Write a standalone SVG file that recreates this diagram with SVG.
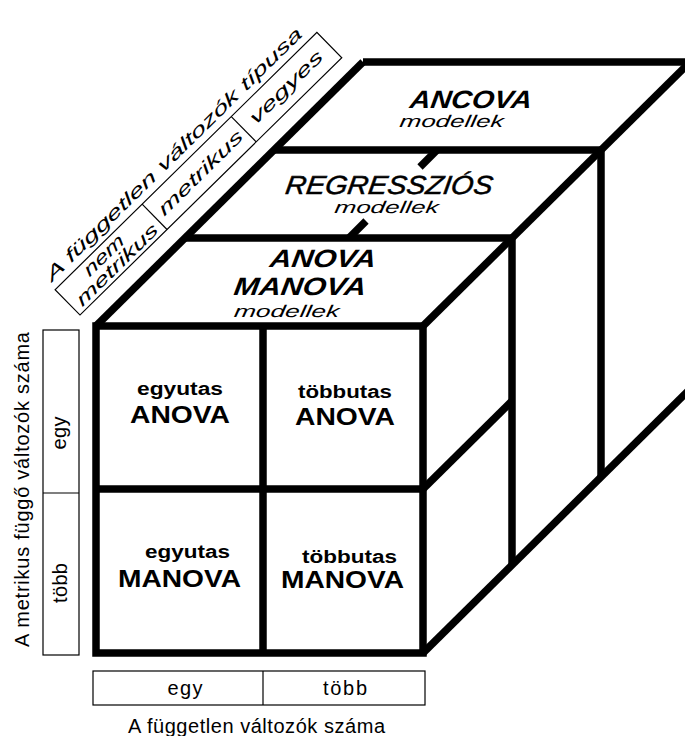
<svg xmlns="http://www.w3.org/2000/svg" width="685" height="736" viewBox="0 0 685 736">
  <style>
    .thick { fill: none; stroke: #000; stroke-width: 7.5; stroke-linecap: butt; stroke-linejoin: miter; }
    .thin { fill: #fff; stroke: #000; stroke-width: 1.2; }
    .lbl { font-family: "Liberation Sans", Arial, sans-serif; font-size: 20px; fill: #000; }
    .obl { font-family: "Liberation Sans", Arial, sans-serif; font-size: 18px; font-style: italic; fill: #000; }
    .cell-s { font-family: "Liberation Sans", Arial, sans-serif; font-size: 18px; font-weight: bold; fill: #000; text-anchor: middle; }
    .cell-l { font-family: "Liberation Sans", Arial, sans-serif; font-size: 24px; font-weight: bold; fill: #000; text-anchor: middle; }
    .slab-b { font-family: "Liberation Sans", Arial, sans-serif; font-size: 25px; font-weight: bold; font-style: italic; fill: #000; text-anchor: middle; }
    .slab-r { font-family: "Liberation Sans", Arial, sans-serif; font-size: 26px; font-style: italic; fill: #000; text-anchor: middle; stroke: #000; stroke-width: 0.5; }
    .slab-m { font-family: "Liberation Sans", Arial, sans-serif; font-size: 17px; font-style: italic; fill: #000; text-anchor: middle; }
  </style>
  <rect width="685" height="736" fill="#fff"/>

  <!-- cube edges -->
  <g id="connectors">
    <rect class="thick" x="96" y="326" width="327" height="327"/>
    <line class="thick" x1="263" y1="326" x2="263" y2="653"/>
    <line class="thick" x1="96" y1="489" x2="423" y2="489"/>
    <line class="thick" x1="96" y1="326" x2="363" y2="62"/>
    <line class="thick" x1="423" y1="326" x2="690" y2="62"/>
    <line class="thick" x1="423" y1="653" x2="690" y2="389"/>
    <line class="thick" x1="423" y1="489" x2="512" y2="401"/>
    <line class="thick" x1="185" y1="238" x2="512" y2="238"/>
    <line class="thick" x1="274" y1="150" x2="601" y2="150"/>
    <line class="thick" x1="363" y1="62" x2="690" y2="62"/>
    <line class="thick" x1="512" y1="238" x2="512" y2="565"/>
    <line class="thick" x1="601" y1="150" x2="601" y2="477"/>
    <line class="thick" x1="437" y1="150" x2="420" y2="167"/>
    <line class="thick" x1="349" y1="238" x2="366" y2="221"/>
  </g>

  <!-- top faces of the three model layers -->
  <g id="slab-ancova">
    <text class="slab-b" transform="translate(470,108) skewX(-8)" textLength="122" lengthAdjust="spacingAndGlyphs">ANCOVA</text>
    <text class="slab-m" transform="translate(451,127) skewX(-8)" textLength="104" lengthAdjust="spacingAndGlyphs">modellek</text>
  </g>
  <g id="slab-regresszios">
    <text class="slab-r" transform="translate(388,194) skewX(-8)" textLength="207" lengthAdjust="spacingAndGlyphs">REGRESSZIÓS</text>
    <text class="slab-m" transform="translate(386,213) skewX(-8)" textLength="104" lengthAdjust="spacingAndGlyphs">modellek</text>
  </g>
  <g id="slab-anova-manova">
    <text class="slab-b" transform="translate(322,267) skewX(-8)" textLength="106" lengthAdjust="spacingAndGlyphs">ANOVA</text>
    <text class="slab-b" transform="translate(299,295) skewX(-8)" textLength="132" lengthAdjust="spacingAndGlyphs">MANOVA</text>
    <text class="slab-m" transform="translate(286,317) skewX(-8)" textLength="105" lengthAdjust="spacingAndGlyphs">modellek</text>
  </g>

  <!-- front face cells -->
  <g id="cell-egyutas-anova">
    <text class="cell-s" x="180" y="395" textLength="86" lengthAdjust="spacingAndGlyphs">egyutas</text>
    <text class="cell-l" x="180" y="423" textLength="100" lengthAdjust="spacingAndGlyphs">ANOVA</text>
  </g>
  <g id="cell-tobbutas-anova">
    <text class="cell-s" x="345" y="398" textLength="94" lengthAdjust="spacingAndGlyphs">többutas</text>
    <text class="cell-l" x="345" y="425" textLength="100" lengthAdjust="spacingAndGlyphs">ANOVA</text>
  </g>
  <g id="cell-egyutas-manova">
    <text class="cell-s" x="187.5" y="558" textLength="85" lengthAdjust="spacingAndGlyphs">egyutas</text>
    <text class="cell-l" x="179.5" y="587" textLength="123" lengthAdjust="spacingAndGlyphs">MANOVA</text>
  </g>
  <g id="cell-tobbutas-manova">
    <text class="cell-s" x="349.5" y="563" textLength="95" lengthAdjust="spacingAndGlyphs">többutas</text>
    <text class="cell-l" x="342.5" y="588" textLength="123" lengthAdjust="spacingAndGlyphs">MANOVA</text>
  </g>

  <!-- dependent variable count axis -->
  <g id="axis-dependent">
    <rect class="thin" x="43" y="330" width="36" height="325"/>
    <line class="thin" x1="43" y1="493" x2="79" y2="493"/>
    <text class="lbl" transform="translate(66,433) rotate(-90)" text-anchor="middle" textLength="33">egy</text>
    <text class="lbl" transform="translate(67,583) rotate(-90)" text-anchor="middle" textLength="40">több</text>
    <text class="lbl" transform="translate(29,489.5) rotate(-90)" text-anchor="middle" textLength="315">A metrikus függő változók száma</text>
  </g>

  <!-- independent variable count axis -->
  <g id="axis-independent">
    <rect class="thin" x="93" y="671" width="332" height="34"/>
    <line class="thin" x1="263" y1="671" x2="263" y2="705"/>
    <text class="lbl" x="185" y="695" text-anchor="middle" textLength="35">egy</text>
    <text class="lbl" x="345" y="695" text-anchor="middle" textLength="44">több</text>
    <text class="lbl" x="256.5" y="733" text-anchor="middle" textLength="257">A független változók száma</text>
  </g>

  <!-- independent variable type axis, along the depth direction -->
  <g id="axis-type" transform="translate(80,315) rotate(-44.5)">
    <rect class="thin" x="0" y="-35.5" width="367" height="35.5"/>
    <line class="thin" x1="122" y1="-35.5" x2="122" y2="0"/>
    <line class="thin" x1="247" y1="-35.5" x2="247" y2="0"/>
    <text class="obl" transform="translate(58,-20) skewX(-8)" text-anchor="middle" textLength="50" lengthAdjust="spacingAndGlyphs">nem</text>
    <text class="obl" transform="translate(61,-4) skewX(-8)" text-anchor="middle" textLength="108" lengthAdjust="spacingAndGlyphs">metrikus</text>
    <text class="obl" transform="translate(185,-11) skewX(-8)" text-anchor="middle" textLength="112" lengthAdjust="spacingAndGlyphs">metrikus</text>
    <text class="obl" transform="translate(306,-12) skewX(-8)" text-anchor="middle" textLength="96" lengthAdjust="spacingAndGlyphs">vegyes</text>
    <text class="obl" transform="translate(3,-43) skewX(-8)" font-size="19" textLength="352" lengthAdjust="spacingAndGlyphs">A független változók típusa</text>
  </g>
</svg>
